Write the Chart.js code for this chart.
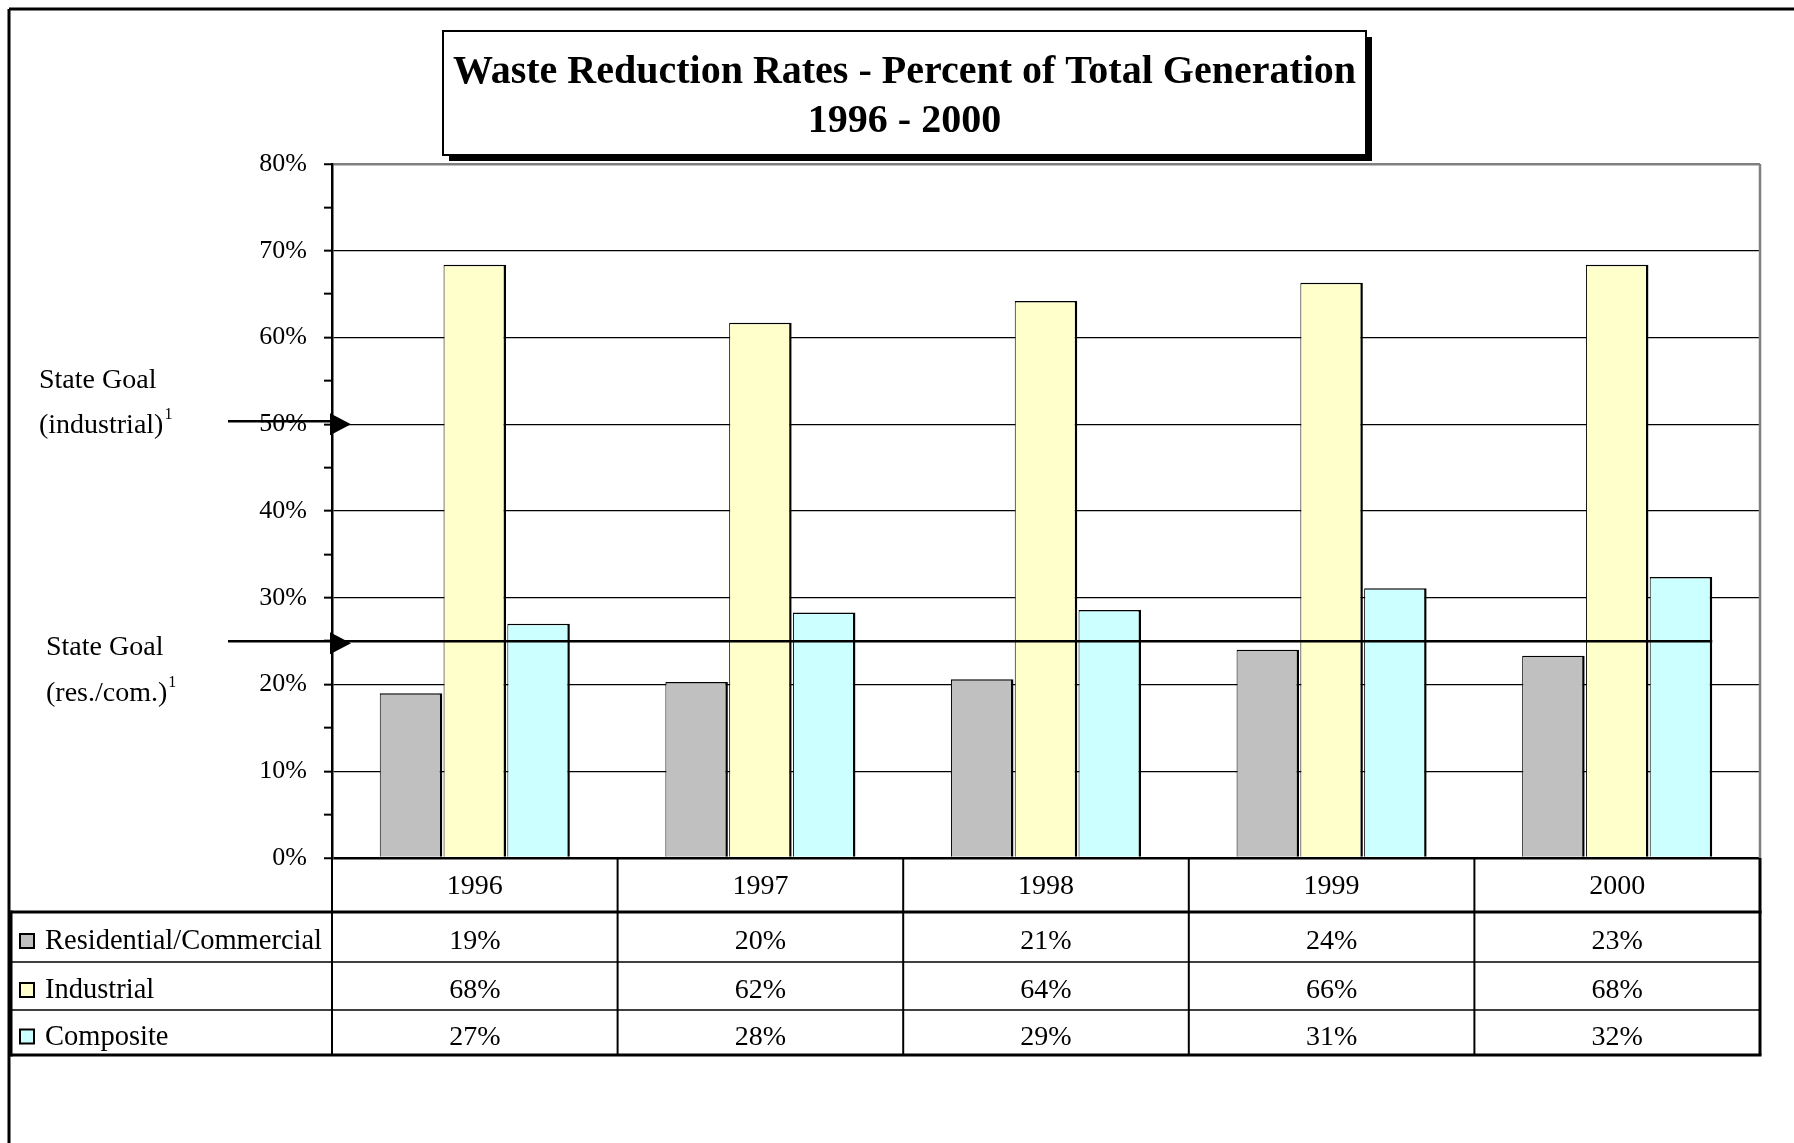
<!DOCTYPE html>
<html>
<head>
<meta charset="utf-8">
<title>Waste Reduction Rates</title>
<script src="https://cdn.jsdelivr.net/npm/chart.js@4.4.0/dist/chart.umd.min.js"></script>
<style>
  html, body { margin: 0; padding: 0; background: #fff; }
  #wrap { width: 1794px; height: 1143px; }
</style>
</head>
<body>
<div id="wrap"><canvas id="chart" width="1794" height="1143"></canvas></div>
<script>
// ── Data ──────────────────────────────────────────────
const years = ['1996', '1997', '1998', '1999', '2000'];
const seriesNames = ['Residential/Commercial', 'Industrial', 'Composite'];
const resCom = [19.0, 20.3, 20.6, 24.0, 23.3];
const industrial = [68.4, 61.7, 64.2, 66.3, 68.4];
const composite = [27.0, 28.3, 28.6, 31.1, 32.4];
const resComLabels = ['19%', '20%', '21%', '24%', '23%'];
const industrialLabels = ['68%', '62%', '64%', '66%', '68%'];
const compositeLabels = ['27%', '28%', '29%', '31%', '32%'];
const goalIndustrial = 50;
const goalResCom = 25;
const yMax = 80;
const yStep = 10;
const titleLines = ['Waste Reduction Rates - Percent of Total Generation', '1996 - 2000'];

// ── Look ──────────────────────────────────────────────
const SERIF = '"Liberation Serif", "Times New Roman", serif';
const COLORS = ['#C0C0C0', '#FFFFCC', '#CCFFFF'];
const TITLE_BOX = { x: 443, y: 31, w: 923, h: 124, shadow: 6 };
const TABLE_LEFT = 11;
const TABLE_ROWS = [858, 912, 962, 1010, 1055]; // header top, row lines, bottom

function line(ctx, x1, y1, x2, y2, w, c) {
  ctx.save();
  ctx.strokeStyle = c || '#000';
  ctx.lineWidth = w;
  ctx.beginPath();
  ctx.moveTo(x1, y1);
  ctx.lineTo(x2, y2);
  ctx.stroke();
  ctx.restore();
}

function arrowHead(ctx, x, y) {
  ctx.save();
  ctx.fillStyle = '#000';
  ctx.beginPath();
  ctx.moveTo(x - 2, y - 11);
  ctx.lineTo(x + 19, y);
  ctx.lineTo(x - 2, y + 11);
  ctx.closePath();
  ctx.fill();
  ctx.restore();
}

function goalLabel(ctx, x, y1, y2, l1, l2) {
  ctx.save();
  ctx.fillStyle = '#000';
  ctx.textAlign = 'left';
  ctx.textBaseline = 'alphabetic';
  ctx.font = '28px ' + SERIF;
  ctx.fillText(l1, x, y1);
  ctx.fillText(l2, x, y2);
  const w = ctx.measureText(l2).width;
  ctx.font = '16px ' + SERIF;
  ctx.fillText('1', x + w + 1, y2 - 14);
  ctx.restore();
}

// ── Extra drawing: frame, title, goals, data table ───
const extras = {
  id: 'extras',
  beforeDraw(chart) {
    const ctx = chart.ctx;
    ctx.save();
    ctx.fillStyle = '#fff';
    ctx.fillRect(0, 0, chart.width, chart.height);
    ctx.restore();
  },
  afterDatasetsDraw(chart) {
    const ctx = chart.ctx;
    const y = chart.scales.y;
    const area = chart.chartArea;
    const lastBar = chart.getDatasetMeta(2).data[years.length - 1];
    const endX = lastBar.x + lastBar.width / 2;

    // industrial goal: stub + arrow at the axis
    const yi = y.getPixelForValue(goalIndustrial);
    line(ctx, 228, yi - 3, area.left, yi - 3, 2.5);
    arrowHead(ctx, area.left, yi);

    // res/com goal: across the plot
    const yr = y.getPixelForValue(goalResCom);
    line(ctx, 228, yr, endX, yr, 2.5);
    arrowHead(ctx, area.left, yr + 2);

    goalLabel(ctx, 39, yi - 36, yi + 9, 'State Goal', '(industrial)');
    goalLabel(ctx, 46, yr + 14, yr + 60, 'State Goal', '(res./com.)');
  },
  afterDraw(chart) {
    const ctx = chart.ctx;
    const area = chart.chartArea;
    const x = chart.scales.x;

    // outer frame (top + left)
    line(ctx, 9, 9, chart.width, 9, 3);
    line(ctx, 9, 9, 9, chart.height, 3);

    // plot border right (gray)
    line(ctx, area.right, area.top, area.right, area.bottom, 2.5, '#808080');

    // title box with shadow
    const b = TITLE_BOX;
    ctx.save();
    ctx.fillStyle = '#000';
    ctx.fillRect(b.x + b.shadow, b.y + b.shadow, b.w, b.h);
    ctx.fillStyle = '#fff';
    ctx.fillRect(b.x, b.y, b.w, b.h);
    ctx.strokeStyle = '#000';
    ctx.lineWidth = 2;
    ctx.strokeRect(b.x, b.y, b.w, b.h);
    ctx.fillStyle = '#000';
    ctx.textAlign = 'center';
    ctx.textBaseline = 'middle';
    ctx.font = 'bold 40px ' + SERIF;
    ctx.fillText(titleLines[0], b.x + b.w / 2, b.y + 42);
    ctx.fillText(titleLines[1], b.x + b.w / 2, b.y + 91);
    ctx.restore();

    // data table
    const R = TABLE_ROWS;
    const n = years.length;
    const colW = (area.right - area.left) / n;
    // column dividers
    for (let i = 0; i <= n; i++) {
      const cx = area.left + i * colW;
      line(ctx, cx, R[0], cx, R[4], i === n ? 3 : 2);
    }
    line(ctx, TABLE_LEFT, R[1], area.right + 1.5, R[1], 3);
    line(ctx, TABLE_LEFT, R[2], area.right, R[2], 1.5);
    line(ctx, TABLE_LEFT, R[3], area.right, R[3], 1.5);
    line(ctx, TABLE_LEFT, R[4], area.right + 1.5, R[4], 3);
    line(ctx, TABLE_LEFT, R[1] - 1.5, TABLE_LEFT, R[4] + 1.5, 3);

    ctx.save();
    ctx.fillStyle = '#000';
    ctx.textAlign = 'center';
    ctx.textBaseline = 'middle';
    ctx.font = '28px ' + SERIF;
    const rowLabels = [resComLabels, industrialLabels, compositeLabels];
    years.forEach((yr, i) => {
      const cx = x.getPixelForValue(i);
      ctx.fillText(yr, cx, (R[0] + R[1]) / 2 + 2);
      rowLabels.forEach((labels, r) => {
        ctx.fillText(labels[i], cx, (R[r + 1] + R[r + 2]) / 2 + 5);
      });
    });
    // legend column
    ctx.textAlign = 'left';
    ctx.font = '28.5px ' + SERIF;
    seriesNames.forEach((name, r) => {
      const cy = (R[r + 1] + R[r + 2]) / 2 + 5;
      ctx.fillStyle = COLORS[r];
      ctx.fillRect(20, cy - 8, 14, 14);
      ctx.strokeStyle = '#000';
      ctx.lineWidth = 2;
      ctx.strokeRect(20, cy - 8, 14, 14);
      ctx.fillStyle = '#000';
      ctx.fillText(name, 45, cy);
    });
    ctx.restore();
  }
};

// ── Chart ─────────────────────────────────────────────
const barStyle = {
  borderColor: '#000',
  borderWidth: { top: 1.5, right: 2.5, bottom: 0, left: 1 },
  borderSkipped: 'bottom',
  categoryPercentage: 0.67,
  barPercentage: 0.98
};

new Chart(document.getElementById('chart').getContext('2d'), {
  type: 'bar',
  data: {
    labels: years,
    datasets: [
      Object.assign({ label: seriesNames[0], data: resCom, backgroundColor: COLORS[0] }, barStyle),
      Object.assign({ label: seriesNames[1], data: industrial, backgroundColor: COLORS[1] }, barStyle),
      Object.assign({ label: seriesNames[2], data: composite, backgroundColor: COLORS[2] }, barStyle)
    ]
  },
  options: {
    responsive: false,
    animation: false,
    layout: { padding: { top: 164, right: 34, bottom: 1143 - 858, left: 0 } },
    plugins: {
      legend: { display: false },
      title: { display: false },
      tooltip: { enabled: false }
    },
    scales: {
      x: { display: false },
      y: {
        min: 0,
        max: yMax,
        afterFit: s => { s.width = 332; s.paddingTop = 0; s.paddingBottom = 0; },
        ticks: {
          stepSize: yStep / 2,
          padding: 17,
          color: '#000',
          font: { family: SERIF, size: 26 },
          callback: v => (v % yStep === 0 ? v + '%' : '')
        },
        grid: {
          drawTicks: true,
          tickLength: 8,
          tickColor: '#000',
          tickWidth: 2,
          color: c => {
            const v = c.tick ? c.tick.value : 0;
            if (v % yStep !== 0) return 'rgba(0,0,0,0)';
            if (v === yMax) return '#808080';
            return '#000';
          },
          lineWidth: c => {
            const v = c.tick ? c.tick.value : 0;
            return (v === 0 || v === yMax) ? 2.5 : 1.3;
          }
        },
        border: { display: true, color: '#000', width: 2.5 }
      }
    }
  },
  plugins: [extras]
});
</script>
</body>
</html>
